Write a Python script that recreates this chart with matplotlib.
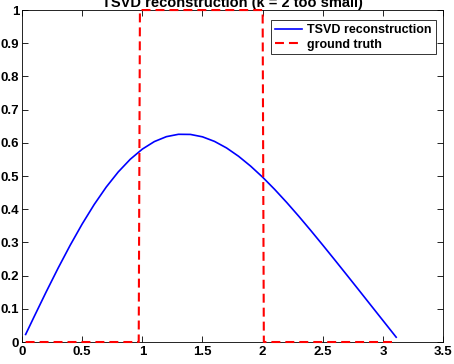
import matplotlib.pyplot as plt

# TSVD reconstruction values
x_rec = [0.03, 0.1, 0.2, 0.3, 0.4, 0.5, 0.6, 0.7, 0.8, 0.9, 1.0, 1.1, 1.2, 1.3,
         1.4, 1.5, 1.6, 1.7, 1.8, 1.9, 2.0, 2.1, 2.2, 2.3, 2.4, 2.5, 2.6, 2.7,
         2.8, 2.9, 3.0, 3.11]
y_rec = [0.0228, 0.0758, 0.1504, 0.2226, 0.2913, 0.3555, 0.4143, 0.4668, 0.5124,
         0.5506, 0.5811, 0.6038, 0.6186, 0.6257, 0.6253, 0.6181, 0.6043, 0.5846,
         0.5595, 0.5299, 0.4965, 0.4597, 0.4204, 0.3790, 0.3360, 0.2919, 0.2471,
         0.2018, 0.1563, 0.1105, 0.0648, 0.0145]

# ground truth (step)
x_gt = [0.03, 0.97, 0.98, 2.0, 2.01, 3.11]
y_gt = [0, 0, 1, 1, 0, 0]

xticks = [0, 0.5, 1, 1.5, 2, 2.5, 3, 3.5]
yticks = [0, 0.1, 0.2, 0.3, 0.4, 0.5, 0.6, 0.7, 0.8, 0.9, 1]

plt.rcParams['font.family'] = ['Liberation Sans', 'DejaVu Sans']
plt.rcParams['font.weight'] = 'bold'

fig = plt.figure(figsize=(4.54, 3.64), dpi=100)
ax = fig.add_axes([0.0485, 0.0604, 0.9275, 0.912])

ax.plot(x_rec, y_rec, color='#0000ff', lw=1.2, label='TSVD reconstruction', zorder=3)
ax.plot(x_gt, y_gt, color='#ff0000', lw=1.5, ls=(0, (4.3, 2.4)), label='ground truth',
        zorder=4, clip_on=False)

ax.set_xlim(0, 3.5)
ax.set_ylim(0, 1)
ax.set_xticks(xticks)
ax.set_xticklabels(['0', '0.5', '1', '1.5', '2', '2.5', '3', '3.5'])
ax.set_yticks(yticks)
ax.set_yticklabels(['0', '0.1', '0.2', '0.3', '0.4', '0.5', '0.6', '0.7', '0.8', '0.9', '1'])
ax.tick_params(direction='in', top=True, right=True, labelsize=9.5, length=4, width=0.6)
ax.tick_params(axis='x', pad=3)
ax.tick_params(axis='y', pad=2)
for s in ax.spines.values():
    s.set_linewidth(0.6)

ax.set_title('TSVD reconstruction (k = 2 too small)', fontsize=10.5, fontweight='bold', pad=2)

leg = ax.legend(loc='upper right', fontsize=9, handlelength=2.2, borderpad=0.3,
                labelspacing=0.2, handletextpad=0.4, fancybox=False,
                bbox_to_anchor=(0.997, 0.988))
leg.get_frame().set_edgecolor('black')
leg.get_frame().set_linewidth(0.7)
for t in leg.get_texts():
    t.set_fontweight('bold')

fig.savefig('out.png', dpi=100)
